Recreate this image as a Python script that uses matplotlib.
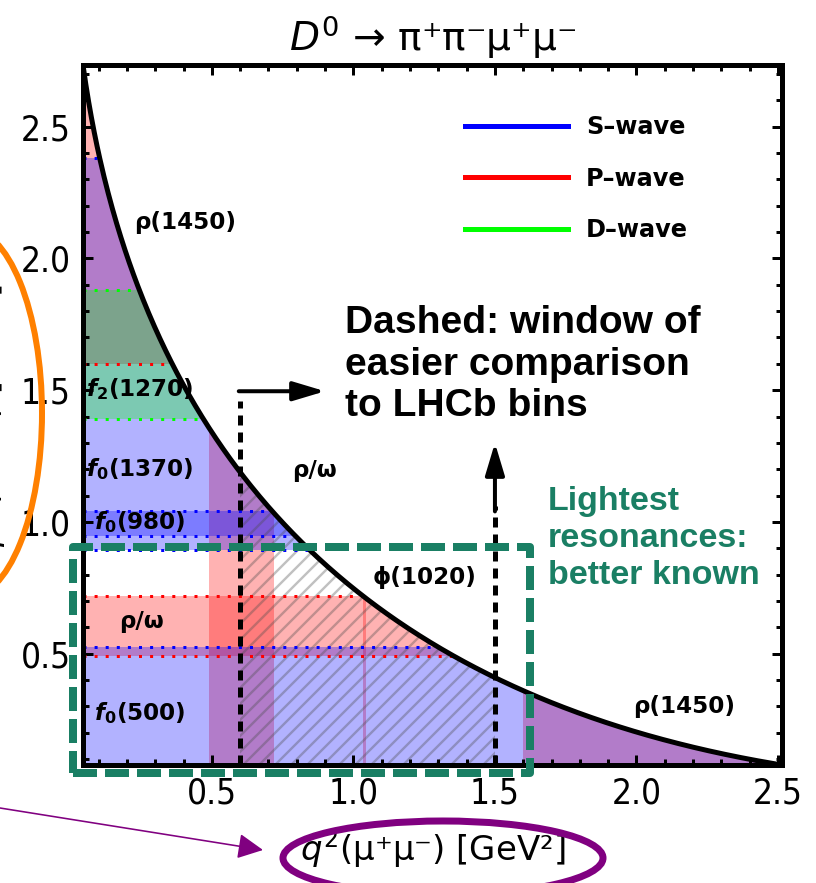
import numpy as np
import matplotlib.pyplot as plt
from matplotlib.patches import Polygon, Rectangle, Ellipse, FancyArrowPatch
from matplotlib.lines import Line2D
from matplotlib.ticker import MultipleLocator

# masses [GeV]
m_D = 1.8648
m_pi = 0.1396
m_mu = 0.1057

# resonance bands in p^2(pi+ pi-) [GeV^2]
pp_lo = [0.078, 0.490, 0.945, 0.895, 1.390, 1.600]
pp_hi = [0.526, 0.718, 1.042, 2.380, 1.880, 2.750]
pp_wave = ['S', 'P', 'S', 'S', 'D', 'P']

# resonance bands in q^2(mu+ mu-) [GeV^2]
mm_lo = [0.490, 1.034, 1.600]
mm_hi = [0.718, 1.043, 2.750]
mm_wave = ['P', 'P', 'P']

# LHCb comparison window in q^2
window = [0.6, 1.5]

# resonance labels (q^2, p^2)
res_text = ['ρ(1450)', r'$\mathbfit{f}_\mathbf{2}$(1270)', r'$\mathbfit{f}_\mathbf{0}$(1370)',
            r'$\mathbfit{f}_\mathbf{0}$(980)', 'ρ/ω', r'$\mathbfit{f}_\mathbf{0}$(500)',
            'ρ/ω', 'ϕ(1020)', 'ρ(1450)']
res_q2 = [0.227, 0.057, 0.057, 0.085, 0.174, 0.085, 0.784, 1.067, 1.989]
res_p2 = [2.135, 1.504, 1.200, 1.000, 0.624, 0.274, 1.195, 0.790, 0.300]

wave_names = ['S', 'P', 'D']
wave_colors = {'S': 'blue', 'P': 'red', 'D': 'lime'}

W, H, DPI = 816, 883, 144
fig = plt.figure(figsize=(W / DPI, H / DPI), dpi=DPI)
ax = fig.add_axes([83 / W, 1 - 765 / H, (782 - 83) / W, (765 - 65) / H])

def fx(px):
    return px / W

def fy(py):
    return 1 - py / H

# kinematic boundary
q2_min, q2_max = (2 * m_mu) ** 2, (m_D - 2 * m_pi) ** 2
p2_min, p2_max = (2 * m_pi) ** 2, (m_D - 2 * m_mu) ** 2
q2 = np.linspace(q2_min, q2_max, 500)
p2_edge = (m_D - np.sqrt(q2)) ** 2
region = Polygon(np.column_stack([np.r_[q2_min, q2], np.r_[p2_min, p2_edge]]),
                 closed=True, transform=ax.transData)

# bands: red first, then blue, then green
for w in ['P', 'S', 'D']:
    c = wave_colors[w]
    for lo, hi, wv in zip(pp_lo, pp_hi, pp_wave):
        if wv == w:
            ax.axhspan(lo, hi, color=c, alpha=0.3, lw=0).set_clip_path(region)
    for lo, hi, wv in zip(mm_lo, mm_hi, mm_wave):
        if wv == w:
            ax.axvspan(lo, hi, color=c, alpha=0.3, lw=0).set_clip_path(region)

# dotted band edges
for lo, hi, wv in zip(pp_lo, pp_hi, pp_wave):
    for y in (lo, hi):
        ln = ax.axhline(y, color=wave_colors[wv], lw=1.5, ls=(0, (1, 2.7)))
        ln.set_clip_path(region)

# hatched window
plt.rcParams['hatch.linewidth'] = 1.2
hs = ax.axvspan(window[0], window[1], facecolor='none',
                edgecolor=(0.3, 0.3, 0.3, 0.35), hatch='///', lw=0)
hs.set_clip_path(region)

ax.plot(q2, p2_edge, color='k', lw=2.5, zorder=5)

for t, x, y in zip(res_text, res_q2, res_p2):
    ax.text(x, y, t, fontsize=11.5, fontweight='bold', ha='left', va='center', zorder=6)

# window lines and arrows
ax.plot([window[0]] * 2, [p2_min, 1.46], color='k', lw=2.5, ls=(0, (2, 1.4)), zorder=7)
ax.plot([window[1]] * 2, [p2_min, 1.06], color='k', lw=2.5, ls=(0, (2, 1.4)), zorder=7)
aprops = dict(arrowstyle='-|>,head_length=0.5,head_width=0.15', color='k', lw=2,
              mutation_scale=27, shrinkA=0, shrinkB=0)
ax.annotate('', xy=(0.90, 1.496), xytext=(window[0] - 0.005, 1.496), arrowprops=aprops)
ax.annotate('', xy=(window[1], 1.30), xytext=(window[1], 1.04), arrowprops=aprops)

ax.set_xlim(q2_min, q2_max)
ax.set_ylim(p2_min, p2_max)
ax.set_xticks([0.5, 1.0, 1.5, 2.0, 2.5])
ax.set_yticks([0.5, 1.0, 1.5, 2.0, 2.5])
ax.xaxis.set_minor_locator(MultipleLocator(0.1))
ax.yaxis.set_minor_locator(MultipleLocator(0.1))
ax.tick_params(which='both', direction='in', top=True, right=True, width=1.5, labelsize=17.5, pad=6)
ax.tick_params(which='major', length=5)
ax.tick_params(which='minor', length=3)
for lab in ax.get_xticklabels() + ax.get_yticklabels():
    lab.set_fontstretch('condensed')
for s in ax.spines.values():
    s.set_linewidth(2.5)
    s.set_zorder(8)

ax.set_title(r'$D^0$ → π⁺π⁻μ⁺μ⁻', fontsize=19.5, pad=7)
ax.set_xlabel(r'$q^2$(μ⁺μ⁻) [GeV²]', fontsize=17, labelpad=8)
ax.set_ylabel(r'$p^2$(π⁺π⁻) [GeV²]', fontsize=17)
ax.yaxis.set_label_coords((8 - 83) / 699, 0.5)

handles = [Line2D([], [], color=wave_colors[w], lw=2.5) for w in wave_names]
ax.legend(handles, [w + '–wave' for w in wave_names], loc='upper left',
          bbox_to_anchor=((465 - 83) / 699, (765 - 115) / 700), frameon=False,
          borderpad=0, borderaxespad=0, handlelength=4.3, handletextpad=0.75,
          labelspacing=1.15, prop=dict(weight='bold', size=12))

# slide annotations
fig.text(fx(345), fy(305), 'Dashed: window of\neasier comparison\nto LHCb bins',
         family='Liberation Sans', weight='bold', fontsize=19.5, va='top', linespacing=1.2)
teal = '#1a7f64'
fig.text(fx(548), fy(486), 'Lightest\nresonances:\nbetter known', color=teal,
         family='Liberation Sans', weight='bold', fontsize=17, va='top', linespacing=1.25)
fig.add_artist(Rectangle((fx(73), fy(773)), fx(530) - fx(73), fy(547) - fy(773),
                         transform=fig.transFigure, fill=False, ec=teal, lw=4,
                         ls=(0, (3, 1)), joinstyle='round', zorder=9))
fig.add_artist(Ellipse((fx(-33), fy(413)), 150 / W, 370 / H, transform=fig.transFigure,
                       fill=False, ec='#ff8000', lw=3, zorder=9))
fig.add_artist(Ellipse((fx(443), fy(858)), 320 / W, 74 / H, transform=fig.transFigure,
                       fill=False, ec='#800080', lw=3.5, zorder=9))
fig.add_artist(FancyArrowPatch((fx(0), fy(808)), (fx(263), fy(850)), transform=fig.transFigure,
                               arrowstyle='-|>', mutation_scale=27, color='#800080', lw=0.8,
                               shrinkA=0, shrinkB=0))

fig.savefig('out.png', dpi=DPI)
